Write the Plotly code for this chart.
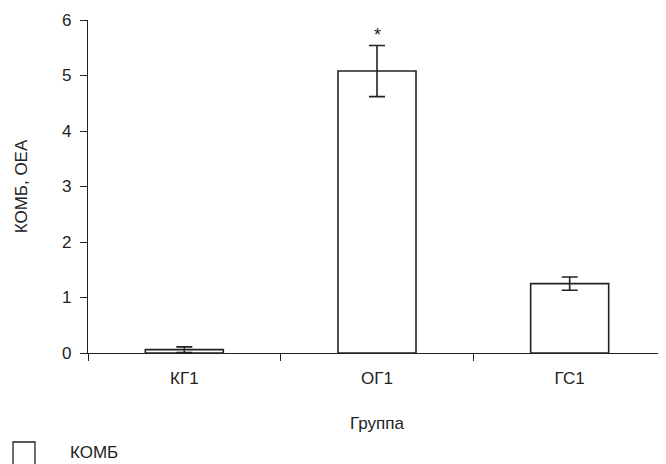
import plotly.graph_objects as go

categories = ["КГ1", "ОГ1", "ГС1"]
values = [0.06, 5.08, 1.25]
errors = [0.05, 0.46, 0.12]
yticks = [0, 1, 2, 3, 4, 5, 6]
series_name = "КОМБ"
marks = ["", "*", ""]

FONT = "Liberation Sans, Arial, sans-serif"
INK = "#222222"

# page body has 8px margin -> figure sized/positioned to compensate
W, H = 658, 456
ML, MR, MT, MB = 80, 0, 12, 111
PW, PH = W - ML - MR, H - MT - MB


def px_to_paper_x(fx):
    return (fx - ML) / PW


def px_to_paper_y(fy):
    return (H - MB - fy) / PH


fig = go.Figure()
fig.add_trace(go.Bar(
    x=categories, y=values, name=series_name,
    marker=dict(color="white", line=dict(color=INK, width=1.6)),
    error_y=dict(type="data", array=errors, visible=True,
                 color=INK, thickness=1.6, width=8),
    showlegend=False,
))

for c, v, e, m in zip(categories, values, errors, marks):
    if m:
        fig.add_annotation(x=c, y=v + e, text=m, showarrow=False,
                           yanchor="bottom", yshift=-1,
                           font=dict(family=FONT, size=18, color=INK))

# legend (drawn manually so it does not push the plot margins)
fig.add_shape(type="rect", xref="paper", yref="paper",
              x0=px_to_paper_x(5), x1=px_to_paper_x(27),
              y0=px_to_paper_y(434), y1=px_to_paper_y(472),
              line=dict(color=INK, width=1.3), fillcolor="white")
fig.add_annotation(xref="paper", yref="paper",
                   x=px_to_paper_x(60), y=px_to_paper_y(445),
                   xanchor="left", yanchor="middle", showarrow=False,
                   text=series_name,
                   font=dict(family=FONT, size=17, color=INK))

fig.update_layout(
    width=W, height=H,
    margin=dict(l=ML, r=MR, t=MT, b=MB),
    paper_bgcolor="white", plot_bgcolor="white",
    font=dict(family=FONT, size=17, color=INK),
    bargap=0.595,
    showlegend=False,
    xaxis=dict(
        range=[-0.5, 2.5],
        showline=True, linecolor=INK, linewidth=1.3,
        ticks="outside", tickson="boundaries", ticklen=7,
        tickcolor=INK, tickwidth=1.3,
        showgrid=False, zeroline=False,
        title=dict(text="Группа", standoff=30, font=dict(size=17)),
        tickfont=dict(size=17),
        ticklabelstandoff=9,
    ),
    yaxis=dict(
        range=[0, 6], tickvals=yticks,
        showline=True, linecolor=INK, linewidth=1.3,
        ticks="outside", ticklen=7, tickcolor=INK, tickwidth=1.3,
        showgrid=False, zeroline=False,
        title=dict(text="КОМБ, ОЕА", standoff=30, font=dict(size=17)),
        tickfont=dict(size=17),
        ticklabelstandoff=5,
    ),
)

fig.write_html("out.html")
